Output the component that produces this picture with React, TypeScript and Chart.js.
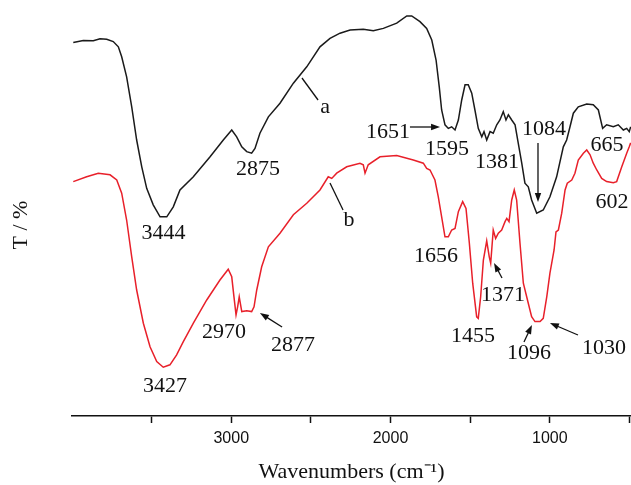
import React, { useEffect, useRef } from "react";
import { Chart, registerables } from "chart.js";

Chart.register(...registerables);

// Curve a (black)
const waveA = [3992,3929,3866,3824,3782,3741,3709,3688,3657,3625,3594,3562,3531,3490,3447,3405,3364,3322,3238,3133,3050,2997,2966,2934,2903,2872,2851,2820,2767,2694,2610,2526,2443,2380,2317,2254,2171,2108,2045,1961,1898,1867,1815,1773,1741,1714,1694,1679,1658,1637,1616,1595,1574,1553,1532,1512,1490,1470,1449,1427,1413,1396,1375,1355,1333,1313,1292,1275,1260,1239,1218,1198,1176,1156,1135,1114,1082,1041,999,957,915,894,873,852,821,768,727,695,668,643,601,570,538,517,501,492];
const transA = [93.4,93.9,93.8,94.3,94.2,93.6,92.3,89.8,84.8,77.3,69,62.3,56.9,52.8,49.8,49.8,52.3,56.5,59.8,64.8,69,71.5,69.8,67.3,66.1,65.7,66.9,70.7,74.8,78.2,83.2,87.3,92.3,94.4,95.7,96.5,96.7,96.3,96.9,98.2,100,100,98.6,96.9,94,89,82.3,76.5,72.8,71.9,72.3,71.5,74,79,82.8,82.8,80.7,76.5,71.9,69.8,71.1,69,71.1,70.7,72.8,74,76.1,74,75.3,74,72.8,68.2,63.2,58.2,57.3,54,50.7,51.5,54.8,59.8,67.3,69,72.3,75.7,77.3,78,77.8,76.5,71.9,72.8,72.3,72.8,71.5,71.9,71.1,72.3];

// Curve b (red)
const waveB = [3992,3908,3835,3761,3719,3688,3657,3625,3594,3552,3510,3468,3427,3385,3343,3301,3238,3154,3071,3019,2997,2983,2970,2960,2950,2934,2903,2872,2857,2840,2809,2767,2694,2610,2526,2443,2391,2369,2338,2275,2192,2171,2160,2140,2066,1961,1857,1794,1773,1752,1721,1700,1679,1658,1637,1616,1595,1574,1547,1526,1505,1484,1459,1449,1434,1417,1396,1380,1371,1355,1340,1323,1302,1281,1270,1256,1239,1223,1208,1187,1166,1135,1114,1093,1061,1041,1019,999,973,961,946,925,904,890,862,842,821,789,768,747,727,705,674,643,601,580,548,517,501,492];
const transB = [58.6,59.8,60.7,60.3,59,55.7,49,39.8,31.5,23.2,17.3,13.6,12.2,12.8,15.3,18.6,23.2,29,34,36.7,34.8,29.8,25.3,27.3,29.8,26.1,26.3,26.1,27.3,31.5,37.3,42.3,45.7,50.3,53.2,56.5,59.8,59.4,60.7,62.3,63.2,62.8,60.7,62.8,64.8,65.1,64,63.2,61.9,61.5,59,54.8,49.8,44.8,44.8,46.5,46.9,51.1,53.6,51.9,43.2,33.2,24.8,24.4,29.8,39,43.8,39.8,38.2,46.5,44.4,45.7,46.5,48.6,49.4,48.6,54,56.5,54,43.2,33.2,28.2,24.8,23.6,23.6,24.4,29.8,35.7,41.5,46,46.5,50.7,56.5,58.2,59,60.7,64,65.7,66.5,65.3,63.2,61.5,59.4,58.6,58.3,58.6,62.3,65.7,67.3,68.3];

const xTickValues = [500, 1000, 1500, 2000, 2500, 3000, 3500];
const xMajorTicks = [1000, 2000, 3000];

// [text, wavenumber, T] for text centres
const peakLabels: [string, number, number][] = [
  ["3444", 3425, 45.75],
  ["2875", 2832, 61.75],
  ["a", 2411, 77.25],
  ["b", 2261, 49],
  ["1651", 2016, 71],
  ["1595", 1645, 66.75],
  ["1381", 1331, 63.5],
  ["1084", 1036, 71.75],
  ["665", 641, 67.75],
  ["602", 609, 53.5],
  ["3427", 3416, 7.5],
  ["2970", 3046, 21],
  ["2877", 2612, 17.75],
  ["1656", 1714, 40],
  ["1371", 1294, 30.25],
  ["1455", 1482, 20],
  ["1096", 1130, 15.75],
  ["1030", 660, 17],
];

// [fromWave, fromT, toWave, toT, arrowhead]
const pointers: [number, number, number, number, boolean][] = [
  [2556, 84.5, 2455, 79, false],
  [2380, 58.25, 2298, 51.5, false],
  [1878, 72.25, 1689, 72.25, true],
  [1074, 68.25, 1074, 53.5, true],
  [2681, 22.25, 2820, 25.75, true],
  [1300, 34.5, 1350, 38.25, true],
  [1162, 18.5, 1112, 22.75, true],
  [823, 20.25, 999, 23.25, true],
];

const SERIF = '"Liberation Serif", "Times New Roman", Times, serif';
const SANS = '"Liberation Sans", Arial, Helvetica, sans-serif';

const annotationPlugin = {
  id: "ftirAnnotations",
  afterDatasetsDraw(chart: any) {
    const { ctx } = chart;
    const xs = chart.scales.x;
    const ys = chart.scales.y;
    ctx.save();
    ctx.fillStyle = "#111";
    ctx.strokeStyle = "#111";
    ctx.font = `22px ${SERIF}`;
    ctx.textAlign = "center";
    ctx.textBaseline = "middle";
    for (const [t, w, v] of peakLabels) {
      ctx.fillText(t, xs.getPixelForValue(w), ys.getPixelForValue(v));
    }
    ctx.lineWidth = 1.3;
    for (const [w1, t1, w2, t2, head] of pointers) {
      const x1 = xs.getPixelForValue(w1);
      const y1 = ys.getPixelForValue(t1);
      const x2 = xs.getPixelForValue(w2);
      const y2 = ys.getPixelForValue(t2);
      const ang = Math.atan2(y2 - y1, x2 - x1);
      const hl = head ? 9 : 0;
      const hw = 3.2;
      const c = Math.cos(ang);
      const s = Math.sin(ang);
      ctx.beginPath();
      ctx.moveTo(x1, y1);
      ctx.lineTo(x2 - c * hl * 0.7, y2 - s * hl * 0.7);
      ctx.stroke();
      if (head) {
        ctx.beginPath();
        ctx.moveTo(x2, y2);
        ctx.lineTo(x2 - hl * c + hw * s, y2 - hl * s - hw * c);
        ctx.lineTo(x2 - hl * c - hw * s, y2 - hl * s + hw * c);
        ctx.closePath();
        ctx.fill();
      }
    }
    ctx.restore();
  },
};

export default function App() {
  const canvasRef = useRef<HTMLCanvasElement | null>(null);

  useEffect(() => {
    const canvas = canvasRef.current;
    if (!canvas) return;
    const chart = new Chart(canvas, {
      type: "line",
      data: {
        datasets: [
          {
            label: "a",
            data: waveA.map((w, i) => ({ x: w, y: transA[i] })),
            borderColor: "#1a1a1a",
            borderWidth: 1.5,
            pointRadius: 0,
            tension: 0,
            fill: false,
          },
          {
            label: "b",
            data: waveB.map((w, i) => ({ x: w, y: transB[i] })),
            borderColor: "#e8202a",
            borderWidth: 1.5,
            pointRadius: 0,
            tension: 0,
            fill: false,
          },
        ],
      },
      options: {
        responsive: false,
        animation: false,
        layout: { padding: { top: 12, left: 0, right: 0, bottom: 0 } },
        plugins: {
          legend: { display: false },
          tooltip: { enabled: false },
          title: { display: false },
        },
        scales: {
          x: {
            type: "linear",
            reverse: true,
            min: 490,
            max: 4000,
            afterBuildTicks: (scale: any) => {
              scale.ticks = xTickValues.map((v) => ({ value: v }));
            },
            afterFit: (scale: any) => {
              scale.height = 69;
            },
            ticks: {
              autoSkip: false,
              maxRotation: 0,
              padding: 6,
              color: "#111",
              font: { family: SANS, size: 16 },
              callback: (v: any) => (xMajorTicks.includes(Number(v)) ? String(v) : ""),
            },
            grid: {
              display: true,
              drawOnChartArea: false,
              drawTicks: true,
              tickLength: 7,
              tickWidth: 1.5,
              tickColor: "#111",
            },
            border: { display: true, color: "#111", width: 1.6 },
            title: {
              display: true,
              text: "Wavenumbers (cm\u207B\u00B9)",
              color: "#111",
              font: { family: SERIF, size: 22 },
              padding: { top: 0, bottom: 0 },
            },
          },
          y: {
            type: "linear",
            min: 0,
            max: 101,
            afterFit: (scale: any) => {
              scale.width = 72;
            },
            ticks: { display: false },
            grid: { display: false },
            border: { display: false },
            title: {
              display: true,
              text: "T / %\u00A0\u00A0\u00A0\u00A0",
              color: "#111",
              font: { family: SERIF, size: 22 },
              padding: { top: 8, bottom: 0 },
            },
          },
        },
      },
      plugins: [annotationPlugin],
    });
    return () => chart.destroy();
  }, []);

  return (
    <div style={{ position: "absolute", left: 0, top: 0, width: 631, height: 485, background: "#fff" }}>
      <canvas ref={canvasRef} width={631} height={485} style={{ display: "block" }} />
    </div>
  );
}
